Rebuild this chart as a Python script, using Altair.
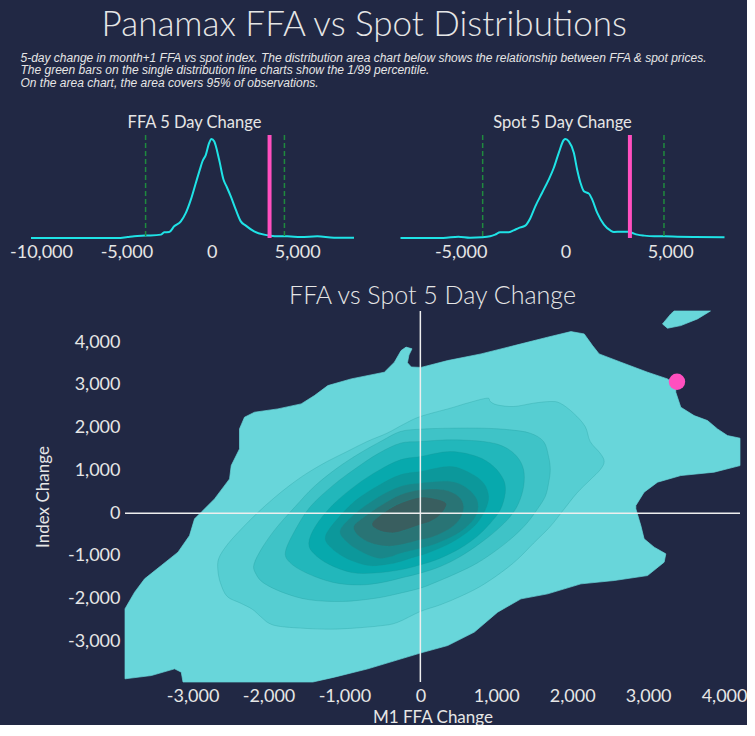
import altair as alt
import pandas as pd

BG = "#212844"
TXT = "#e6e6e6"
FONT = "Lato"
SUBFONT = "Liberation Sans Narrow, Arial Narrow, Liberation Sans, sans-serif"
CYAN = "#1fe3e6"
GREEN = "#1f8a3e"
MAGENTA = "#ff4fbf"

# ---------------- single distributions ----------------
ffa_x = [-10585, -8000, -5515, -4934, -4544, -3877, -2982, -2787, -2495, -2203, -1813, -1521,
         -1228, -936, -702, -546, -351, -156, -20, 137, 429, 682, 877, 1111, 1404, 1696, 1989,
         2476, 3061, 3411, 3840, 4424, 5205, 6179, 7154, 8323]
ffa_d = [0, 0, 0, 0.01, 0.017, 0.024, 0.034, 0.057, 0.06, 0.118, 0.168, 0.253, 0.387, 0.556,
         0.69, 0.775, 0.84, 0.96, 1.0, 0.976, 0.79, 0.59, 0.515, 0.42, 0.286, 0.168, 0.125,
         0.067, 0.034, 0.024, 0.017, 0.017, 0.01, 0.017, 0.003, 0.003]
ffa_pct = [-3877, 4250]
ffa_domain = [-10585, 8323]
ffa_ticks = [-10000, -5000, 0, 5000]

spot_x = [-7870, -5831, -5112, -4553, -3978, -3594, -3355, -3115, -2716, -2476, -2236, -1917,
          -1677, -1438, -1118, -799, -559, -319, -80, 0, 160, 399, 559, 719, 879, 1118, 1278,
          1518, 1837, 2157, 2316, 2636, 2987, 3195, 3435, 3754, 4233, 4712, 5351, 6150, 7588]
spot_d = [0, 0, 0.013, 0.003, 0.007, 0.017, 0.034, 0.057, 0.057, 0.077, 0.1, 0.125, 0.2, 0.32,
          0.455, 0.59, 0.707, 0.86, 0.99, 1.0, 0.976, 0.86, 0.69, 0.556, 0.471, 0.448, 0.387,
          0.253, 0.135, 0.074, 0.061, 0.064, 0.064, 0.05, 0.034, 0.024, 0.017, 0.017, 0.013,
          0.01, 0.007]
spot_pct = [-3950, 4700]
spot_domain = [-7870, 7588]
spot_ticks = [-5000, 0, 5000]

latest_ffa = 3380
latest_spot = 3075

# ---------------- 2-D density contours (outer -> inner) ----------------
x_domain = [-3890, 4210]
y_domain = [-3950, 4730]
main_ticks_x = [-3000, -2000, -1000, 0, 1000, 2000, 3000, 4000]
main_ticks_y = [-3000, -2000, -1000, 0, 1000, 2000, 3000, 4000]

contour_outer = [(-3890, -2238), (-3763, -1848), (-3632, -1537), (-3412, -1225), (-3192, -912),
                 (-3040, -524), (-2974, -133), (-2886, 23), (-2711, 334), (-2513, 802),
                 (-2491, 1113), (-2382, 1504), (-2382, 1972), (-2316, 2245), (-2184, 2362),
                 (-1876, 2440), (-1570, 2557), (-1395, 2751), (-1218, 2985), (-912, 3141),
                 (-474, 3298), (-342, 3532), (-254, 3803), (-188, 3885), (-110, 3845),
                 (-150, 3700), (-170, 3520), (-120, 3420), (9, 3410), (360, 3570), (799, 3726),
                 (1237, 3920), (1676, 4117), (1983, 4248), (2158, 4194), (2268, 3920),
                 (2355, 3726), (2641, 3532), (2992, 3298), (3255, 3141), (3364, 3000),
                 (3364, 2830), (3430, 2479), (3605, 2283), (3782, 2166), (3913, 1972),
                 (4045, 1815), (4210, 1754), (4210, 1113), (3869, 959), (3430, 880),
                 (3124, 725), (2947, 491), (2838, 178), (2838, 101), (2904, -290), (2947, -601),
                 (3079, -795), (3233, -952), (3211, -1146), (2992, -1460), (2553, -1576),
                 (2115, -1654), (1676, -1888), (1325, -2005), (1018, -2316), (711, -2783),
                 (360, -3097), (9, -3268), (-254, -3408), (-692, -3642), (-1132, -3836),
                 (-1416, -3950), (-3126, -3950), (-3149, -3719), (-3237, -3642), (-3543, -3799),
                 (-3890, -3876)]
contour_blob = [(3189, 4428), (3299, 4662), (3342, 4730), (3821, 4730), (3650, 4545),
                (3430, 4388), (3255, 4327)]
contour_2 = [(0, 2261), (395, 2456), (614, 2573), (877, 2690), (921, 2612), (1009, 2534),
             (1228, 2495), (1491, 2573), (1711, 2612), (1842, 2573), (2018, 2339), (2171, 2027),
             (2237, 1676), (2368, 1403), (2421, 1209), (2368, 1014), (2237, 780), (2061, 468),
             (1886, 78), (1711, -312), (1491, -702), (1272, -1092), (1053, -1403), (789, -1715),
             (526, -1949), (263, -2144), (0, -2300), (-307, -2560), (-526, -2635), (-877, -2690),
             (-1184, -2713), (-1491, -2698), (-1842, -2651), (-1996, -2573), (-2105, -2417),
             (-2215, -2246), (-2368, -2105), (-2544, -1949), (-2632, -1637), (-2667, -1325),
             (-2654, -1053), (-2544, -741), (-2368, -390), (-2149, 0), (-1930, 351),
             (-1711, 663), (-1491, 936), (-1228, 1209), (-965, 1442), (-702, 1676),
             (-439, 1871), (-220, 2080)]
contour_3 = [(-263, 1910), (0, 1965), (395, 1988), (833, 1988), (1184, 1949), (1447, 1871),
             (1623, 1676), (1689, 1325), (1711, 1014), (1689, 702), (1645, 390), (1535, 78),
             (1404, -234), (1228, -546), (1009, -858), (746, -1170), (482, -1403), (175, -1637),
             (0, -1754), (-263, -1871), (-581, -1988), (-1020, -2066), (-1458, -2027),
             (-1787, -1871), (-2061, -1637), (-2171, -1403), (-2190, -1190), (-2080, -800),
             (-1900, -350), (-1650, 150), (-1400, 620), (-1100, 1050), (-800, 1400),
             (-500, 1700)]
contour_4 = [(-263, 1637), (0, 1676), (395, 1715), (833, 1676), (1096, 1559), (1272, 1325),
             (1360, 1014), (1360, 624), (1294, 234), (1184, -78), (1009, -390), (789, -702),
             (526, -1014), (263, -1248), (0, -1403), (-263, -1520), (-500, -1620), (-800, -1680),
             (-1150, -1620), (-1500, -1400), (-1720, -1150), (-1776, -897), (-1650, -400),
             (-1450, 150), (-1150, 650), (-850, 1050), (-550, 1400)]
contour_5 = [(-263, 1248), (0, 1325), (395, 1442), (746, 1325), (965, 1092), (1096, 780),
             (1118, 468), (1053, 78), (921, -234), (746, -546), (526, -819), (263, -1053),
             (0, -1209), (-263, -1325), (-600, -1400), (-900, -1390), (-1200, -1200),
             (-1400, -950), (-1469, -702), (-1380, -300), (-1150, 200), (-850, 650), (-550, 1000)]
contour_6 = [(-263, 897), (0, 975), (395, 1092), (658, 936), (833, 702), (899, 390), (855, 78),
             (746, -234), (570, -507), (351, -741), (88, -936), (-132, -1053), (-263, -1131),
             (-450, -1200), (-700, -1220), (-980, -1050), (-1180, -800), (-1250, -546),
             (-1100, -150), (-850, 300), (-550, 650)]
contour_7 = [(-263, 624), (0, 702), (395, 741), (614, 585), (746, 312), (746, 0), (636, -273),
             (461, -507), (219, -702), (0, -819), (-263, -936), (-400, -1020), (-570, -1050),
             (-800, -880), (-980, -650), (-1053, -390), (-850, 0), (-550, 380)]
contour_8 = [(-263, 429), (0, 546), (307, 546), (504, 390), (570, 156), (526, -117),
             (395, -351), (175, -546), (0, -624), (-263, -741), (-450, -770), (-650, -700),
             (-820, -520), (-877, -312), (-750, -100), (-500, 200)]
contour_9 = [(-263, 234), (0, 374), (219, 330), (338, 240), (329, 120), (250, -60), (132, -195),
             (0, -273), (-263, -429), (-400, -460), (-550, -400), (-636, -234), (-450, 50)]

contours = [contour_outer, contour_blob, contour_2, contour_3, contour_4, contour_5,
            contour_6, contour_7, contour_8, contour_9]
contour_colors = ["#68d6da", "#68d6da", "#56ced2", "#3fc3c7", "#22b7bb", "#07a9ad",
                  "#0c989b", "#19878a", "#297475", "#395e5f"]

subtitle_lines = [
    "5-day change in month+1 FFA vs spot index. The distribution area chart below shows the relationship between FFA & spot prices.",
    "The green bars on the single distribution line charts show the 1/99 percentile.",
    "On the area chart, the area covers 95% of observations.",
]

LABEL_EXPR = "replace(format(datum.value, ','), '\u2212', '-')"


def small_chart(title, xs, ds, pct, latest, domain, ticks, width, title_dx):
    xscale = alt.Scale(domain=domain, nice=False, zero=False)
    xaxis = alt.Axis(values=ticks, labelExpr=LABEL_EXPR, domain=False, ticks=False, grid=False,
                     labelFontSize=18, labelColor=TXT, labelFont=FONT, labelPadding=5, title=None)
    X = alt.X("x:Q", scale=xscale, axis=xaxis)
    line = alt.Chart(pd.DataFrame({"x": xs, "d": ds})).mark_line(
        color=CYAN, strokeWidth=2, interpolate="monotone").encode(
        x=X, y=alt.Y("d:Q", scale=alt.Scale(domain=[0, 1.04], nice=False), axis=None))
    pr = alt.Chart(pd.DataFrame({"x": pct})).mark_rule(
        color=GREEN, strokeWidth=1.5, strokeDash=[5, 3]).encode(x=X)
    cur = alt.Chart(pd.DataFrame({"x": [latest]})).mark_rule(
        color=MAGENTA, strokeWidth=4).encode(x=X)
    return alt.layer(line, pr, cur).properties(
        width=width, height=103,
        title=alt.TitleParams(title, fontSize=16.5, color=TXT, font=FONT, fontWeight=400,
                              offset=1.5, frame="group", anchor="middle", dx=title_dx))


ffa_chart = small_chart("FFA 5 Day Change", ffa_x, ffa_d, ffa_pct, latest_ffa, ffa_domain,
                        ffa_ticks, 323, 2)
spot_chart = small_chart("Spot 5 Day Change", spot_x, spot_d, spot_pct, latest_spot, spot_domain,
                         spot_ticks, 324, 0)

row1 = alt.hconcat(ffa_chart, spot_chart, spacing=38.5).properties(
    title=alt.TitleParams(subtitle_lines, anchor="start", fontSize=12, font=SUBFONT,
                          fontStyle="italic", fontWeight="normal", color=TXT, lineHeight=12.5,
                          offset=25.5, dx=11))

# ---------------- main contour chart ----------------
LEFT = 94
MAIN_W = 709
xs_main = alt.Scale(domain=x_domain, range=[LEFT, MAIN_W], nice=False, zero=False)
ys_main = alt.Scale(domain=y_domain, nice=False, zero=False)
x_axis = alt.Axis(values=main_ticks_x, labelExpr=LABEL_EXPR, domain=False, ticks=False, grid=False,
                  labelFontSize=18, labelColor=TXT, labelFont=FONT, labelPadding=5,
                  title="M1 FFA Change", titleFontSize=17, titleColor=TXT, titleFont=FONT,
                  titleFontWeight="normal", titlePadding=4, titleX=LEFT + (MAIN_W - LEFT) / 2)
y_axis = alt.Axis(values=main_ticks_y, labelExpr=LABEL_EXPR, domain=False, ticks=False, grid=False,
                  labelFontSize=18, labelColor=TXT, labelFont=FONT, labelPadding=5, offset=-LEFT,
                  title="Index Change", titleFontSize=17, titleColor=TXT, titleFont=FONT,
                  titleFontWeight="normal", titlePadding=15)
XM = alt.X("x:Q", scale=xs_main, axis=x_axis)
YM = alt.Y("y:Q", scale=ys_main, axis=y_axis)

layers = []
for k, (pts, col) in enumerate(zip(contours, contour_colors)):
    df = pd.DataFrame({"x": [p[0] for p in pts], "y": [p[1] for p in pts],
                       "i": list(range(len(pts)))})
    interp = "linear-closed" if k < 2 else "cardinal-closed"
    layers.append(alt.Chart(df).mark_line(
        fill=col, filled=True, stroke="#1a8e92" if k >= 2 else col,
        strokeOpacity=0.35 if k >= 2 else 1, strokeWidth=0.7,
        interpolate=interp).encode(x=XM, y=YM, order=alt.Order("i:Q")))

vline = alt.Chart(pd.DataFrame({"x": [0]})).mark_rule(color="#eeeeee", strokeWidth=1.5).encode(x=XM)
hline = alt.Chart(pd.DataFrame({"y": [0], "x": [x_domain[0]], "x2": [x_domain[1]]})).mark_rule(
    color="#eeeeee", strokeWidth=1.5).encode(y=YM, x=XM, x2="x2:Q")
dot = alt.Chart(pd.DataFrame({"x": [latest_ffa], "y": [latest_spot]})).mark_circle(
    color=MAGENTA, opacity=1, size=270).encode(x=XM, y=YM)

main = alt.layer(*layers, vline, hline, dot).properties(
    width=MAIN_W, height=371,
    title=alt.TitleParams("FFA vs Spot 5 Day Change", fontSize=25, color=TXT, font=FONT,
                          fontWeight=300, anchor="middle", dx=LEFT / 2, offset=1))

chart = alt.vconcat(row1, main, spacing=22).properties(
    title=alt.TitleParams("Panamax FFA vs Spot Distributions", fontSize=35, color=TXT, font=FONT,
                          fontWeight=300, anchor="middle", offset=9, dx=-14),
    padding={"left": 9, "top": 7, "right": 0, "bottom": 0},
    background=BG,
).configure_view(stroke=None).configure_concat(spacing=22)

chart.save("out.html", embed_options={"renderer": "svg", "actions": False})
